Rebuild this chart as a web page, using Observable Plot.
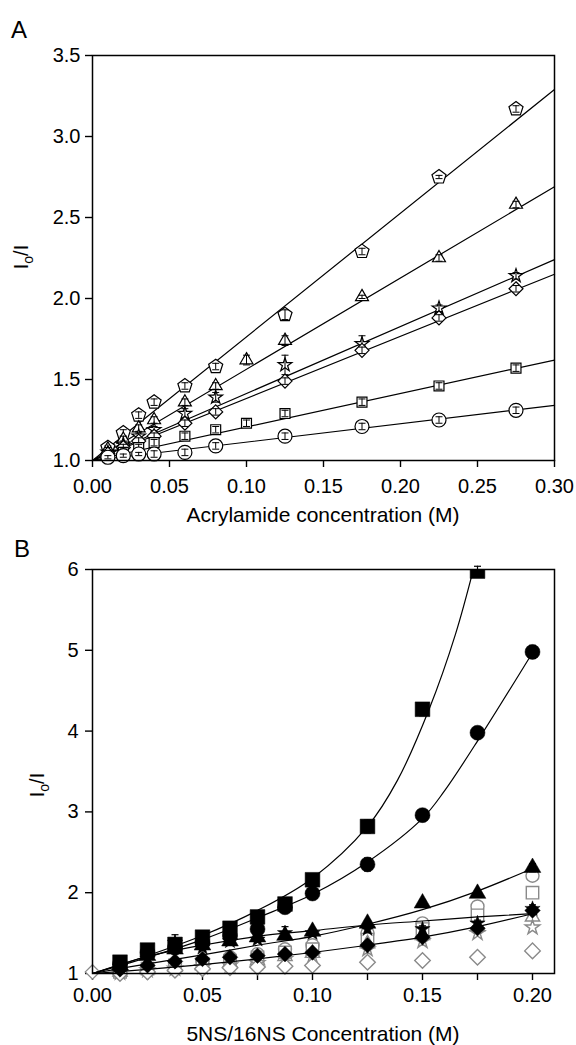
<!DOCTYPE html>
<html><head><meta charset="utf-8">
<script src="https://cdn.jsdelivr.net/npm/d3@7"></script>
<script src="https://cdn.jsdelivr.net/npm/@observablehq/plot@0.6"></script>
<style>
body{margin:0;background:#fff;}
#chart svg{display:block;}
</style></head><body><div id="chart"></div>
<script>
const FONT = '"Liberation Sans", Arial, Helvetica, sans-serif';

// ---------- Panel A : acrylamide quenching ----------
const aConc       = [0.01, 0.02, 0.03, 0.04, 0.06, 0.08, 0.10, 0.125, 0.175, 0.225, 0.275];
const aPentagon   = [1.08, 1.17, 1.28, 1.36, 1.46, 1.58, null, 1.90, 2.29, 2.75, 3.17];
const aTriangle   = [1.07, 1.13, 1.20, 1.25, 1.36, 1.46, 1.62, 1.74, 2.01, 2.25, 2.58];
const aStar       = [1.05, 1.10, 1.15, 1.19, 1.29, 1.39, null, 1.59, 1.72, 1.94, 2.14];
const aDiamond    = [1.04, 1.08, 1.12, 1.15, 1.23, 1.30, null, 1.49, 1.68, 1.88, 2.06];
const aSquare     = [1.03, 1.05, 1.08, 1.11, 1.15, 1.19, 1.23, 1.29, 1.36, 1.46, 1.57];
const aCircle     = [1.02, 1.03, 1.04, 1.04, 1.05, 1.09, null, 1.15, 1.21, 1.25, 1.31];
const aPentagonErr = [0.01, 0.02, 0.02, 0.02, 0.02, 0.02, null, 0.03, 0.02, 0.01, 0.02];
const aTriangleErr = [0.01, 0.02, 0.02, 0.02, 0.02, 0.02, 0.03, 0.03, 0.01, 0.02, 0.02];
const aStarErr     = [0.01, 0.02, 0.02, 0.02, 0.03, 0.03, null, 0.06, 0.05, 0.02, 0.02];
const aDiamondErr  = [0.01, 0.02, 0.02, 0.02, 0.02, 0.02, null, 0.02, 0.02, 0.02, 0.02];
const aSquareErr   = [0.01, 0.02, 0.02, 0.02, 0.02, 0.02, 0.02, 0.02, 0.02, 0.02, 0.02];
const aCircleErr   = [0.01, 0.01, 0.01, 0.02, 0.02, 0.02, null, 0.02, 0.02, 0.02, 0.02];
// fitted Stern-Volmer lines: start (0, 1.0) and value at the right edge (0.30)
const aFitX      = [0, 0.30];
const aFitStartY = 1.0;
const aFitEndY   = [3.29, 2.69, 2.24, 2.15, 1.62, 1.34]; // pentagon, triangle, star, diamond, square, circle
const aXTicks = [0, 0.05, 0.10, 0.15, 0.20, 0.25, 0.30];
const aYTicks = [1.0, 1.5, 2.0, 2.5, 3.0, 3.5];

// ---------- Panel B : 5NS / 16NS quenching ----------
const bConc = [0.0125, 0.025, 0.0375, 0.05, 0.0625, 0.075, 0.0875, 0.10, 0.125, 0.15, 0.175, 0.20];
// filled (black) series
const bSquareF   = [1.14, 1.29, 1.36, 1.45, 1.56, 1.70, 1.86, 2.16, 2.82, 4.27, 5.98, null];
const bCircleF   = [1.12, 1.26, 1.32, 1.38, 1.46, 1.55, 1.82, 1.99, 2.35, 2.96, 3.98, 4.98];
const bTriangleF = [1.10, 1.22, 1.30, 1.35, 1.40, 1.45, 1.47, 1.52, 1.62, 1.87, 1.99, 2.31];
const bStarF     = [1.08, 1.18, 1.38, 1.32, 1.40, 1.42, 1.50, 1.50, 1.55, 1.55, 1.62, 1.80];
const bDiamondF  = [1.05, 1.10, 1.15, 1.18, 1.20, 1.22, 1.24, 1.26, 1.35, 1.45, 1.56, 1.78];
const bSquareFErr   = [0.02, 0.03, 0.03, 0.04, 0.04, 0.04, 0.05, 0.05, 0.08, 0.08, 0.06, null];
const bCircleFErr   = [0.02, 0.03, 0.03, 0.03, 0.04, 0.04, 0.05, 0.05, 0.08, 0.07, 0.06, 0.08];
const bTriangleFErr = [0.02, 0.02, 0.03, 0.03, 0.03, 0.03, 0.04, 0.04, 0.04, 0.04, 0.04, 0.05];
const bStarFErr     = [0.02, 0.02, 0.10, 0.03, 0.03, 0.03, 0.08, 0.04, 0.04, 0.04, 0.04, 0.05];
const bDiamondFErr  = [0.02, 0.02, 0.02, 0.02, 0.02, 0.02, 0.03, 0.03, 0.03, 0.03, 0.03, 0.04];
// open (gray) series
const bCircleO   = [1.03, 1.08, 1.12, 1.15, 1.20, 1.24, 1.30, 1.35, 1.50, 1.62, 1.83, 2.21];
const bSquareO   = [1.02, 1.06, 1.10, 1.12, 1.16, 1.20, 1.26, 1.30, 1.42, 1.55, 1.72, 2.00];
const bTriangleO = [1.02, 1.05, 1.08, 1.10, 1.13, 1.16, 1.21, 1.25, 1.37, 1.47, 1.58, 1.70];
const bStarO     = [1.01, 1.04, 1.06, 1.08, 1.10, 1.13, 1.18, 1.22, 1.30, 1.40, 1.50, 1.57];
const bDiamondO  = [1.00, 1.02, 1.04, 1.06, 1.07, 1.08, 1.09, 1.10, 1.14, 1.16, 1.20, 1.28];
// fitted curves (knots)
const bFitSquareX   = [0, 0.025, 0.05, 0.075, 0.10, 0.125, 0.1386, 0.153, 0.165, 0.175];
const bFitSquareY   = [1, 1.22, 1.47, 1.78, 2.18, 2.82, 3.39, 4.27, 5.20, 6.20];
const bFitCircleX   = [0, 0.025, 0.05, 0.075, 0.10, 0.125, 0.15, 0.16, 0.176, 0.20];
const bFitCircleY   = [1, 1.20, 1.42, 1.69, 1.98, 2.38, 2.92, 3.26, 3.92, 4.97];
const bFitX         = [0, 0.025, 0.05, 0.075, 0.10, 0.125, 0.15, 0.175, 0.20];
const bFitTriangleY = [1, 1.12, 1.23, 1.35, 1.46, 1.61, 1.79, 2.02, 2.30];
const bFitStarY     = [1, 1.21, 1.35, 1.46, 1.53, 1.60, 1.65, 1.70, 1.74];
const bFitDiamondY  = [1, 1.05, 1.11, 1.18, 1.26, 1.35, 1.45, 1.58, 1.74];
const bXTicks      = [0, 0.05, 0.10, 0.15, 0.20];
const bXMinorTicks = [0.025, 0.075, 0.125, 0.175];
const bYTicks      = [1, 2, 3, 4, 5, 6];

// ---------- helpers ----------
const pentagon = {draw(ctx, size) {
  const r = Math.sqrt(size / Math.PI);
  for (let i = 0; i < 5; i++) {
    const a = -Math.PI / 2 + i * 2 * Math.PI / 5;
    const x = r * Math.cos(a), y = r * Math.sin(a);
    if (i) ctx.lineTo(x, y); else ctx.moveTo(x, y);
  }
  ctx.closePath();
}};
const capSym = {draw(ctx, size) {
  const w = Math.sqrt(size / Math.PI);
  ctx.moveTo(-w, 0); ctx.lineTo(w, 0);
}};
function pts(xs, ys, es) {
  const out = [];
  xs.forEach((x, i) => { if (ys[i] != null) out.push({x, y: ys[i], e: es ? (es[i] ?? 0) : 0}); });
  return out;
}
function errMarks(data, color, capR, sw) {
  return [
    Plot.ruleX(data, {x: "x", y1: d => d.y - d.e, y2: d => d.y + d.e, stroke: color, strokeWidth: sw}),
    Plot.dot(data, {x: "x", y: d => d.y - d.e, symbol: capSym, r: capR, stroke: color, strokeWidth: sw, fill: "none"}),
    Plot.dot(data, {x: "x", y: d => d.y + d.e, symbol: capSym, r: capR, stroke: color, strokeWidth: sw, fill: "none"})
  ];
}
function addYLabel(svg, x, y) {
  const g = d3.select(svg).append("g").attr("transform", `translate(${x},${y}) rotate(-90)`);
  const t = g.append("text").attr("text-anchor", "middle").attr("font-family", FONT)
    .attr("font-size", 20).attr("fill", "#000");
  t.append("tspan").text("I");
  t.append("tspan").attr("font-size", 14).attr("dy", 5).text("o");
  t.append("tspan").attr("dy", -5).text("/I");
}
function addText(svg, txt, x, y, size, anchor) {
  d3.select(svg).append("text").attr("x", x).attr("y", y).attr("text-anchor", anchor)
    .attr("font-family", FONT).attr("font-size", size).attr("fill", "#000").text(txt);
}

// ---------- Panel A ----------
const aSeries = [
  {y: aPentagon, e: aPentagonErr, symbol: pentagon,   r: 7.4},
  {y: aTriangle, e: aTriangleErr, symbol: "triangle", r: 4.8},
  {y: aStar,     e: aStarErr,     symbol: "star",     r: 4.3},
  {y: aDiamond,  e: aDiamondErr,  symbol: "diamond2", r: 6.3},
  {y: aSquare,   e: aSquareErr,   symbol: "square",   r: 5.6},
  {y: aCircle,   e: aCircleErr,   symbol: "circle",   r: 7.0}
];
const aMarks = [
  Plot.axisX({ticks: aXTicks, tickFormat: ".2f", tickSize: 7, tickPadding: 11, fontSize: 20, strokeWidth: 1.4, label: null}),
  Plot.axisY({ticks: aYTicks, tickFormat: ".1f", tickSize: 7, tickPadding: 5, fontSize: 20, strokeWidth: 1.4, label: null})
];
aFitEndY.forEach(end => {
  aMarks.push(Plot.line([{x: aFitX[0], y: aFitStartY}, {x: aFitX[1], y: end}],
    {x: "x", y: "y", stroke: "#000", strokeWidth: 1.2}));
});
aSeries.forEach(s => {
  const data = pts(aConc, s.y, s.e);
  aMarks.push(Plot.dot(data, {x: "x", y: "y", symbol: s.symbol, r: s.r, stroke: "#000", strokeWidth: 1.2, fill: "#fff"}));
  aMarks.push(...errMarks(data, "#000", 3.5, 1));
});
aMarks.push(Plot.frame({stroke: "#000", strokeWidth: 1.5}));

const plotA = Plot.plot({
  width: 576, height: 530,
  marginLeft: 92, marginRight: 22, marginTop: 55, marginBottom: 70,
  style: {fontFamily: FONT, fontSize: "20px", color: "#000", background: "#fff", overflow: "visible"},
  x: {domain: [0, 0.30]},
  y: {domain: [1.0, 3.5]},
  marks: aMarks
});
addText(plotA, "A", 11, 38, 24, "start");
addText(plotA, "Acrylamide concentration (M)", 323, 522, 21, "middle");
addYLabel(plotA, 28, 257);

// ---------- Panel B ----------
const GRAY = "#8a8a8a";
const bOpen = [
  {y: bCircleO,   symbol: "circle",   r: 6.5},
  {y: bSquareO,   symbol: "square",   r: 7.0},
  {y: bTriangleO, symbol: "triangle", r: 5.3},
  {y: bStarO,     symbol: "star",     r: 4.6},
  {y: bDiamondO,  symbol: "diamond2", r: 7.0}
];
const bFilled = [
  {y: bSquareF,   e: bSquareFErr,   symbol: "square",   r: 8.3, clip: true},
  {y: bCircleF,   e: bCircleFErr,   symbol: "circle",   r: 7.5},
  {y: bTriangleF, e: bTriangleFErr, symbol: "triangle", r: 6.2},
  {y: bStarF,     e: bStarFErr,     symbol: "star",     r: 4.8},
  {y: bDiamondF,  e: bDiamondFErr,  symbol: "diamond2", r: 7.0}
];
const bFits = [
  {x: bFitSquareX, y: bFitSquareY},
  {x: bFitCircleX, y: bFitCircleY},
  {x: bFitX, y: bFitTriangleY},
  {x: bFitX, y: bFitStarY},
  {x: bFitX, y: bFitDiamondY}
];
const bMarks = [
  Plot.axisX({ticks: bXTicks, tickFormat: ".2f", tickSize: 7, tickPadding: 7, fontSize: 20, strokeWidth: 1.4, label: null}),
  Plot.axisX({ticks: bXMinorTicks, tickFormat: () => "", tickSize: 7, strokeWidth: 1.4, label: null}),
  Plot.axisY({ticks: bYTicks, tickFormat: "d", tickSize: 7, tickPadding: 7, fontSize: 20, strokeWidth: 1.4, label: null})
];
// open marker at zero concentration
bMarks.push(Plot.dot(pts([0], [1.02]), {x: "x", y: "y", symbol: "diamond2", r: 6.5, stroke: GRAY, strokeWidth: 1.3, fill: "#fff"}));
bOpen.forEach(s => {
  bMarks.push(Plot.dot(pts(bConc, s.y), {x: "x", y: "y", symbol: s.symbol, r: s.r, stroke: GRAY, strokeWidth: 1.4, fill: "#fff"}));
});
bFits.forEach(f => {
  bMarks.push(Plot.line(pts(f.x, f.y), {x: "x", y: "y", curve: "catmull-rom", stroke: "#000", strokeWidth: 1.2, clip: true}));
});
bFilled.forEach(s => {
  const data = pts(bConc, s.y, s.e);
  bMarks.push(...errMarks(data, "#000", 3.5, 1.2));
  bMarks.push(Plot.dot(data, {x: "x", y: "y", symbol: s.symbol, r: s.r, fill: "#000", stroke: "#000", strokeWidth: 0.5, clip: !!s.clip}));
});
bMarks.push(Plot.frame({stroke: "#000", strokeWidth: 1.5}));

const plotB = Plot.plot({
  width: 576, height: 515,
  marginLeft: 92, marginRight: 22, marginTop: 39, marginBottom: 72,
  style: {fontFamily: FONT, fontSize: "20px", color: "#000", background: "#fff", overflow: "visible"},
  x: {domain: [0, 0.21]},
  y: {domain: [1, 6]},
  marks: bMarks
});
addText(plotB, "B", 14, 27, 24, "start");
addText(plotB, "5NS/16NS Concentration (M)", 323, 511, 21, "middle");
addYLabel(plotB, 44, 255);

document.getElementById("chart").append(plotA, plotB);
</script>
</body></html>
